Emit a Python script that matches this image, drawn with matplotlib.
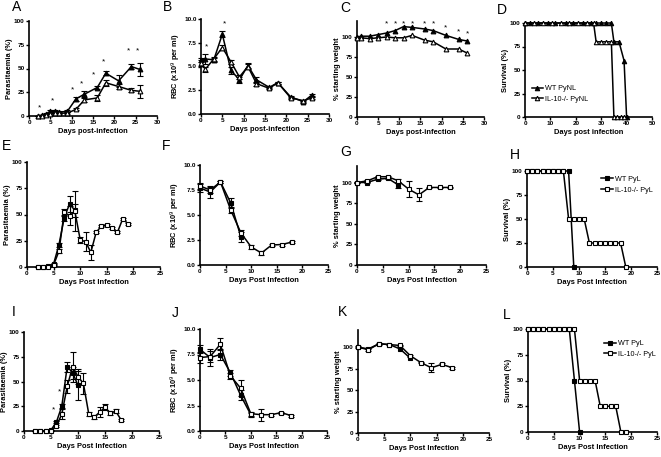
import matplotlib
matplotlib.use("Agg")
import matplotlib.pyplot as plt
import numpy as np

plt.rcParams['font.family'] = ['Liberation Sans', 'DejaVu Sans']

# ---------------- DATA ----------------
# Panel A: parasitaemia PyNL
a_days = [2, 3, 4, 5, 6, 7, 9, 11, 13, 16, 18, 21, 24, 26]
a_wt = [0, 1, 2, 5, 5, 4, 5, 18, 23, 30, 45, 37, 52, 49]
a_wt_err = [0.5, 0.5, 1, 1, 1, 1, 1, 2, 3, 2, 2, 6, 3, 7]
a_ko = [0, 0, 1, 2, 3, 3, 3, 7, 17, 19, 35, 31, 27, 26]
a_ko_err = [0.3, 0.3, 0.5, 1, 1, 1, 1, 1, 2, 3, 3, 3, 2, 7]
a_star_x = [2.5, 5.5, 10.3, 12.4, 15.1, 17.5, 23.4, 25.5]
a_star_y = [9, 16, 28, 34, 43, 57, 69, 69]

# Panel B: RBC PyNL
b_days = [0, 1, 3, 5, 7, 9, 11, 13, 16, 18, 21, 24, 26]
b_wt = [5.7, 5.8, 5.7, 8.4, 4.6, 3.6, 5.1, 3.6, 2.8, 3.3, 1.8, 1.3, 2.0]
b_wt_err = [0.2, 0.5, 0.2, 0.3, 0.4, 0.3, 0.3, 0.3, 0.1, 0.1, 0.1, 0.1, 0.1]
b_ko = [5.4, 4.7, 5.8, 7.0, 5.5, 3.9, 5.0, 3.2, 2.7, 3.3, 1.7, 1.4, 1.7]
b_ko_err = [0.3, 0.3, 0.2, 0.3, 0.2, 0.2, 0.3, 0.2, 0.1, 0.1, 0.1, 0.1, 0.1]
b_star_x = [1.4, 5.6]
b_star_y = [7.1, 9.5]

# Panel C: weight PyNL
c_days = [0, 1, 3, 5, 7, 9, 11, 13, 16, 18, 21, 24, 26]
c_wt = [100, 101, 101, 103, 105, 108, 113, 112, 110, 108, 102, 97, 95]
c_ko = [99, 99, 98, 99, 100, 99, 99, 102, 96, 94, 85, 85, 80]
c_star_x = [7, 9, 11, 13, 16, 18, 21, 24, 26]
c_star_y = [116, 116, 117, 117, 117, 116, 111, 106, 104]

# Panel D: survival PyNL
d_wt_days = [0, 2, 5, 9, 12, 16, 19, 23, 26, 28, 30, 32, 34, 35, 37, 39, 40]
d_wt_surv = [100] * 13 + [80, 80, 60, 0]
d_ko_days = [0, 3.5, 7, 10.5, 14, 17.5, 21, 24.5, 27, 28, 30, 32, 34, 35, 36.3, 37.7, 39]
d_ko_surv = [100] * 9 + [80] * 4 + [0] * 4

# Panel E: parasitaemia PyL (first experiment)
e_wt_days = [2, 3, 4, 5, 6, 7, 8, 9]
e_wt = [0, 0, 0.5, 3, 21, 47, 60, 54]
e_wt_err = [0, 0, 0.3, 1, 2, 3, 8, 6]
e_ko_days = [2, 3, 4, 5, 6, 7, 8, 9, 10, 11, 12, 13, 14, 15, 16, 17, 18, 19]
e_ko = [0, 0, 0, 2, 15, 52, 49, 53, 26, 24, 14, 33, 39, 40, 37, 33, 46, 41]
e_ko_err = [0, 0, 0, 1, 2, 3, 9, 19, 3, 9, 7, 1, 1, 1, 1, 1, 1, 1]

# Panel F: RBC PyL
f_wt_days = [0, 2, 4, 6, 8]
f_wt = [7.7, 7.3, 8.3, 6.2, 2.8]
f_wt_err = [0.4, 0.6, 0.1, 0.5, 0.5]
f_ko_days = [0, 2, 4, 6, 8, 10, 12, 14, 16, 18]
f_ko = [7.9, 7.5, 8.3, 5.5, 3.2, 1.8, 1.2, 2.0, 2.05, 2.3]
f_ko_err = [0.3, 0.3, 0.1, 0.3, 0.3, 0.2, 0.2, 0.1, 0.1, 0.1]

# Panel G: weight PyL
g_wt_days = [0, 2, 4, 6, 8]
g_wt = [100, 100, 104, 105, 97]
g_wt_err = [1, 1, 1, 1, 4]
g_ko_days = [0, 2, 4, 6, 8, 10, 12, 14, 16, 18]
g_ko = [100, 102, 107, 107, 102, 92, 85, 94, 94, 94]
g_ko_err = [1, 1, 1, 1, 2, 10, 8, 1, 1, 1]

# Panel H: survival PyL
h_wt_days = [0, 1, 2, 3, 4, 5, 6, 7, 8, 9]
h_wt_surv = [100] * 9 + [0]
h_ko_days = [0, 1, 2, 3, 4, 5, 6, 7, 8, 9, 10, 11, 12, 13, 14, 15, 16, 17, 18, 19]
h_ko_surv = [100] * 8 + [50] * 4 + [25] * 7 + [0]

# Panel I: parasitaemia PyL (second experiment)
i_wt_days = [2, 3, 4, 5, 6, 7, 8, 9, 10]
i_wt = [0, 0, 0, 1, 9, 25, 65, 59, 46]
i_wt_err = [0, 0, 0, 0.5, 1, 2, 5, 6, 15]
i_ko_days = [2, 3, 4, 5, 6, 7, 8, 9, 10, 11, 12, 13, 14, 15, 16, 17, 18]
i_ko = [0, 0, 0, 0.5, 5, 17, 45, 65, 55, 48, 17, 14, 19, 24, 18, 20, 11]
i_ko_err = [0, 0, 0, 0.3, 1, 5, 7, 15, 8, 11, 2, 2, 5, 3, 2, 2, 1]
i_star_x = [5.5, 6.6]
i_star_y = [21, 39]

# Panel J: RBC PyL (second experiment)
j_wt_days = [0, 2, 4, 6, 8, 10]
j_wt = [8.0, 7.2, 7.5, 5.7, 3.5, 1.6]
j_wt_err = [0.4, 0.8, 0.5, 0.3, 0.5, 0.2]
j_ko_days = [0, 2, 4, 6, 8, 10, 12, 14, 16, 18]
j_ko = [7.2, 7.3, 8.5, 5.4, 4.2, 1.7, 1.6, 1.6, 1.8, 1.5]
j_ko_err = [0.5, 0.5, 0.6, 0.3, 0.8, 0.2, 0.6, 0.1, 0.1, 0.1]

# Panel K: weight PyL (second experiment)
k_wt_days = [0, 2, 4, 6, 8, 10]
k_wt = [100, 98, 104, 103, 98, 87]
k_ko_days = [0, 2, 4, 6, 8, 10, 12, 14, 16, 18]
k_ko = [100, 97, 104, 103, 102, 90, 82, 76, 80, 76]
k_ko_err = [1, 1, 1, 1, 1, 1, 1, 5, 1, 1]

# Panel L: survival PyL (second experiment)
l_wt_days = [0, 1, 2, 3, 4, 5, 6, 7, 8, 9, 10]
l_wt_surv = [100] * 9 + [50, 0]
l_ko_days = [0, 1, 2, 3, 4, 5, 6, 7, 8, 9, 10, 11, 12, 13, 14, 15, 16, 17, 18, 19]
l_ko_surv = [100] * 10 + [50] * 4 + [25] * 4 + [0, 0]

panel_letters = ['A', 'B', 'C', 'D', 'E', 'F', 'G', 'H', 'I', 'J', 'K', 'L']
legend_pynl = ['WT PyNL', 'IL-10-/- PyNL']
legend_pyl = ['WT PyL', 'IL-10-/- PyL']

# ---------------- FIGURE ----------------
W, H = 661, 457
fig = plt.figure(figsize=(W / 100, H / 100), dpi=100)
fig.patch.set_facecolor('white')

TICK_FS = 4.6
LAB_FS = 5.4


def make_ax(x0, x1, ytop, ybot, xlim, ylim, xticks, yticks, xlabel, ylabel,
            yfmt=None):
    ax = fig.add_axes([x0 / W, 1 - ybot / H, (x1 - x0) / W, (ybot - ytop) / H])
    ax.set_xlim(*xlim)
    ax.set_ylim(*ylim)
    for s in ['top', 'right']:
        ax.spines[s].set_visible(False)
    for s in ['left', 'bottom']:
        ax.spines[s].set_linewidth(1.2)
    ax.set_xticks(xticks)
    ax.set_yticks(yticks)
    if yfmt:
        ax.set_yticklabels([yfmt.format(v) for v in yticks])
    ax.tick_params(direction='out', length=2.2, width=1.0, labelsize=TICK_FS,
                   pad=1.0)
    for lab in ax.get_xticklabels() + ax.get_yticklabels():
        lab.set_fontweight('bold')
    ax.set_xlabel(xlabel, fontsize=LAB_FS, fontweight='bold', labelpad=2)
    ax.set_ylabel(ylabel, fontsize=LAB_FS, fontweight='bold', labelpad=0.8)
    return ax


def series(ax, x, y, err, marker, filled, ms=3.4):
    fc = 'black' if filled else 'white'
    if err is not None:
        ax.errorbar(x, y, yerr=err, fmt='none', ecolor='black', elinewidth=0.8,
                    capsize=2, capthick=0.8, clip_on=False, zorder=2)
    ax.plot(x, y, color='black', lw=1.1, marker=marker, ms=ms, mfc=fc,
            mec='black', mew=0.8, clip_on=False, zorder=3)


def stars(ax, xs, ys):
    for x, y in zip(xs, ys):
        ax.text(x, y, '*', ha='center', va='center', fontsize=6)


xl_a = 'Days post-infection'
xl_b = 'Days Post Infection'

# Row 1
axA = make_ax(29, 157, 21, 116, (0, 30), (0, 100), range(0, 31, 5),
              [0, 25, 50, 75, 100], xl_a, 'Parasitaemia (%)')
series(axA, a_days, a_wt, a_wt_err, '^', True)
series(axA, a_days, a_ko, a_ko_err, '^', False)
stars(axA, a_star_x, a_star_y)

axB = make_ax(201, 329, 19, 114, (0, 30), (0, 10), range(0, 31, 5),
              [0, 2.5, 5, 7.5, 10], xl_a, 'RBC (x10$^9$ per ml)', '{:.1f}')
series(axB, b_days, b_wt, b_wt_err, '^', True)
series(axB, b_days, b_ko, b_ko_err, '^', False)
stars(axB, b_star_x, b_star_y)

axC = make_ax(357, 484, 21, 117, (0, 30), (0, 120), range(0, 31, 5),
              [0, 25, 50, 75, 100], xl_a, '% starting weight')
series(axC, c_days, c_wt, None, '^', True)
series(axC, c_days, c_ko, None, '^', False)
stars(axC, c_star_x, c_star_y)

axD = make_ax(525, 652, 23, 117, (0, 50), (0, 100), range(0, 51, 10),
              [0, 25, 50, 75, 100], 'Days post infection', 'Survival (%)')
series(axD, d_wt_days, d_wt_surv, None, '^', True, ms=3.2)
series(axD, d_ko_days, d_ko_surv, None, '^', False, ms=3.2)
axD.legend(legend_pynl, loc='lower left', bbox_to_anchor=(0.03, 0.12),
           frameon=False, fontsize=5.2, handlelength=1.6, handletextpad=0.3,
           labelspacing=0.5, borderaxespad=0)

# Row 2
axE = make_ax(27, 160, 162, 267, (0, 25), (0, 100), range(0, 26, 5),
              [0, 25, 50, 75, 100], xl_b, 'Parasitaemia (%)')
series(axE, e_wt_days, e_wt, e_wt_err, 's', True, ms=3.2)
series(axE, e_ko_days, e_ko, e_ko_err, 's', False, ms=3.2)

axF = make_ax(200, 328, 165, 265, (0, 25), (0, 10), range(0, 26, 5),
              [0, 2.5, 5, 7.5, 10], xl_b, 'RBC (x10$^9$ per ml)', '{:.1f}')
series(axF, f_wt_days, f_wt, f_wt_err, 's', True, ms=3.2)
series(axF, f_ko_days, f_ko, f_ko_err, 's', False, ms=3.2)

axG = make_ax(357, 486, 166, 265, (0, 25), (0, 120), range(0, 26, 5),
              [0, 25, 50, 75, 100], xl_b, '% starting weight')
series(axG, g_wt_days, g_wt, g_wt_err, 's', True, ms=3.2)
series(axG, g_ko_days, g_ko, g_ko_err, 's', False, ms=3.2)

axH = make_ax(527, 657, 171, 267, (0, 25), (0, 100), range(0, 26, 5),
              [0, 25, 50, 75, 100], xl_b, 'Survival (%)')
series(axH, h_wt_days, h_wt_surv, None, 's', True, ms=3.2)
series(axH, h_ko_days, h_ko_surv, None, 's', False, ms=3.2)
axH.legend(legend_pyl, loc='upper left', bbox_to_anchor=(0.55, 0.98),
           frameon=False, fontsize=5.2, handlelength=1.6, handletextpad=0.3,
           labelspacing=0.5, borderaxespad=0)

# Row 3
axI = make_ax(24, 159, 332, 431, (0, 25), (0, 100), range(0, 26, 5),
              [0, 25, 50, 75, 100], xl_b, 'Parasitaemia (%)')
series(axI, i_wt_days, i_wt, i_wt_err, 's', True, ms=3.2)
series(axI, i_ko_days, i_ko, i_ko_err, 's', False, ms=3.2)
stars(axI, i_star_x, i_star_y)

axJ = make_ax(200, 327, 329, 431, (0, 25), (0, 10), range(0, 26, 5),
              [0, 2.5, 5, 7.5, 10], xl_b, 'RBC (x10$^9$ per ml)', '{:.1f}')
series(axJ, j_wt_days, j_wt, j_wt_err, 's', True, ms=3.2)
series(axJ, j_ko_days, j_ko, j_ko_err, 's', False, ms=3.2)

axK = make_ax(358, 489, 330, 433, (0, 25), (0, 120), range(0, 26, 5),
              [0, 25, 50, 75, 100], xl_b, '% starting weight')
series(axK, k_wt_days, k_wt, None, 's', True, ms=3.2)
series(axK, k_ko_days, k_ko, k_ko_err, 's', False, ms=3.2)

axL = make_ax(528, 657, 329, 432, (0, 25), (0, 100), range(0, 26, 5),
              [0, 25, 50, 75, 100], xl_b, 'Survival (%)')
series(axL, l_wt_days, l_wt_surv, None, 's', True, ms=3.2)
series(axL, l_ko_days, l_ko_surv, None, 's', False, ms=3.2)
axL.legend(legend_pyl, loc='upper left', bbox_to_anchor=(0.57, 0.92),
           frameon=False, fontsize=5.2, handlelength=1.6, handletextpad=0.3,
           labelspacing=0.5, borderaxespad=0)

# Panel letters
letter_pos = [(12, 0), (163, 0), (340, 1), (497, 3),
              (2, 139), (162, 139), (340, 145), (510, 148),
              (12, 305), (172, 306), (338, 305), (503, 308)]
for letter, (px, py) in zip(panel_letters, letter_pos):
    fig.text(px / W, 1 - py / H, letter, fontsize=10, va='top', ha='left')

fig.savefig('out.png', dpi=100)
